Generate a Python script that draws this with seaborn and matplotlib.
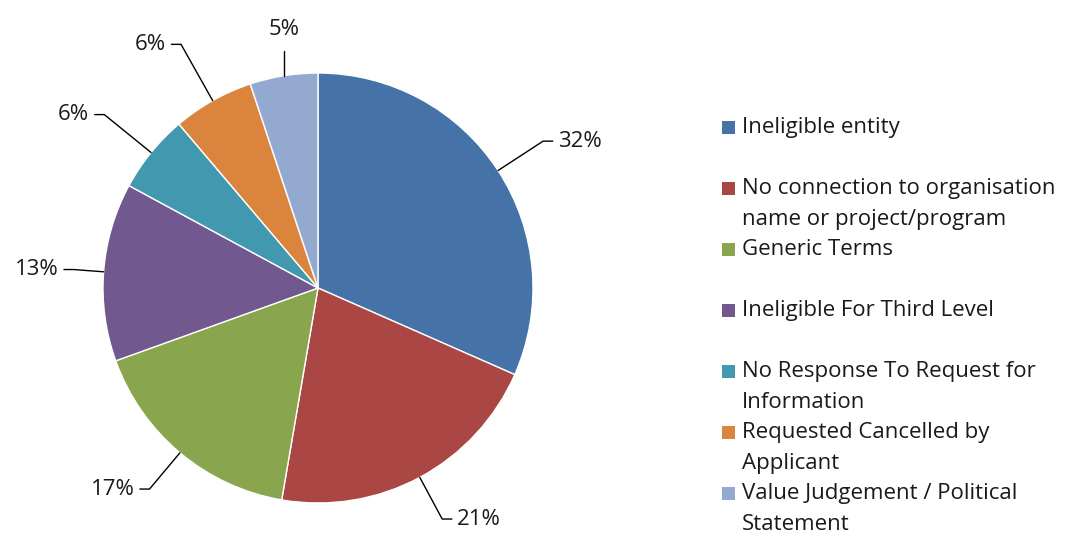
import numpy as np
import matplotlib.pyplot as plt
from matplotlib.patches import Rectangle
import seaborn as sns

categories = ['Ineligible entity',
              'No connection to organisation\nname or project/program',
              'Generic Terms',
              'Ineligible For Third Level',
              'No Response To Request for\nInformation',
              'Requested Cancelled by\nApplicant',
              'Value Judgement / Political\nStatement']
shares = [31.6, 21.1, 16.8, 13.4, 5.9, 6.1, 5.1]
colors = ['#4572A7', '#AA4643', '#89A54E', '#71588F', '#4198AF', '#DB843D', '#93A9CF']

# radius of the leader-line elbow for each data label (layout only)
label_r = [1.25, 1.22, 1.22, 1.14, 1.28, 1.30, 1.10]

sns.set_theme(style='white')
plt.rcParams['font.family'] = ['Open Sans', 'DejaVu Sans']
fs = 16

W, H = 1073, 533
fig = plt.figure(figsize=(W / 100, H / 100), dpi=100)

# pie placed in pixel terms: centre (318, 288 from top), radius 215px
cx, cy, R = 318, H - 288, 215
L = 1.4
side = 2 * L * R
ax = fig.add_axes([(cx - side / 2) / W, (cy - side / 2) / H, side / W, side / H])
wedges, _ = ax.pie(shares, colors=colors, startangle=90, counterclock=False, radius=1,
                   wedgeprops=dict(edgecolor='white', linewidth=1))
ax.set_xlim(-L, L)
ax.set_ylim(-L, L)
ax.set_aspect('equal')
ax.axis('off')

# data labels with leader lines
for w, s, r in zip(wedges, shares, label_r):
    ang = np.deg2rad((w.theta1 + w.theta2) / 2)
    x0, y0 = np.cos(ang), np.sin(ang)
    if abs(x0) < 0.25:
        ax.plot([x0, x0], [y0, r], color='black', lw=1, clip_on=False)
        ax.text(x0, r + 0.1, f'{round(s)}%', ha='center', va='center', fontsize=fs, color='#1a1a1a')
        continue
    xe, ye = r * x0, r * y0
    d = 1 if x0 > 0 else -1
    ax.plot([x0, xe, xe + d * 0.045], [y0, ye, ye], color='black', lw=1, clip_on=False)
    ax.text(xe + d * 0.07, ye, f'{round(s)}%', ha='left' if d > 0 else 'right', va='center',
            fontsize=fs, color='#1a1a1a')

# legend on the right
for i, (lab, c) in enumerate(zip(categories, colors)):
    ytop = 127 + i * 61.1
    fig.patches.append(Rectangle((722 / W, 1 - (ytop + 6.5) / H), 13 / W, 13 / H,
                                 transform=fig.transFigure, facecolor=c, edgecolor='none'))
    for j, line in enumerate(lab.split('\n')):
        fig.text(742 / W, 1 - (ytop + j * 31) / H, line, ha='left', va='center',
                 fontsize=fs, color='#1a1a1a')

fig.savefig('out.png', dpi=100)
